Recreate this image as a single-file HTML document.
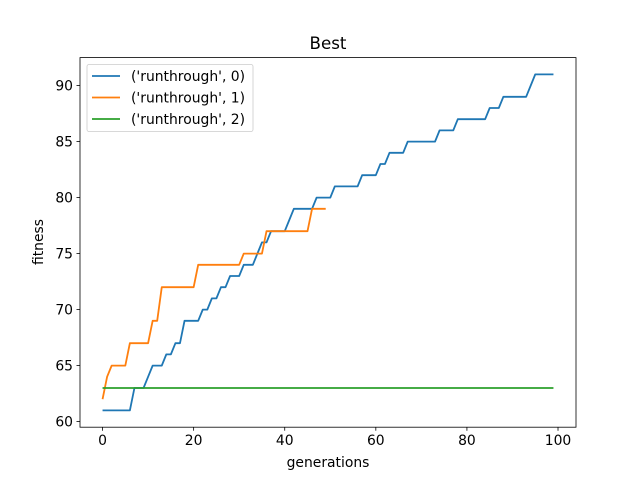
<!DOCTYPE html>
<html><head><meta charset="utf-8"><style>
body{margin:0;background:#fff;}
svg{display:block;font-family:"DejaVu Sans","Liberation Sans",sans-serif;}
</style></head><body>
<svg id="chart" width="640" height="480" viewBox="0 0 640 480" xmlns="http://www.w3.org/2000/svg">
<rect width="640" height="480" fill="#fff"/>
<text x="328" y="49" font-size="16.7" text-anchor="middle">Best</text>
<g id="series"></g>
<rect x="80" y="57.6" width="496" height="369.6" fill="none" stroke="#000" stroke-width="0.8"/>
<g id="xticks"></g><g id="yticks"></g>
<text x="328" y="467" font-size="13.9" text-anchor="middle">generations</text>
<text x="43" y="242" font-size="13.9" text-anchor="middle" transform="rotate(-90 43 242)">fitness</text>
<g id="legend"></g>
</svg>
<script>
const seriesNames = ["('runthrough', 0)", "('runthrough', 1)", "('runthrough', 2)"];
const seriesColors = ["#1f77b4", "#ff7f0e", "#2ca02c"];
const run0 = [61,61,61,61,61,61,61,63,63,63,64,65,65,65,66,66,67,67,69,69,69,69,70,70,71,71,72,72,73,73,73,74,74,74,75,76,76,77,77,77,77,78,79,79,79,79,79,80,80,80,80,81,81,81,81,81,81,82,82,82,82,83,83,84,84,84,84,85,85,85,85,85,85,85,86,86,86,86,87,87,87,87,87,87,87,88,88,88,89,89,89,89,89,89,90,91,91,91,91,91];
const run1 = [62,64,65,65,65,65,67,67,67,67,67,69,69,72,72,72,72,72,72,72,72,74,74,74,74,74,74,74,74,74,74,75,75,75,75,75,77,77,77,77,77,77,77,77,77,77,79,79,79,79];
const run2 = [63,63,63,63,63,63,63,63,63,63,63,63,63,63,63,63,63,63,63,63,63,63,63,63,63,63,63,63,63,63,63,63,63,63,63,63,63,63,63,63,63,63,63,63,63,63,63,63,63,63,63,63,63,63,63,63,63,63,63,63,63,63,63,63,63,63,63,63,63,63,63,63,63,63,63,63,63,63,63,63,63,63,63,63,63,63,63,63,63,63,63,63,63,63,63,63,63,63,63,63];
const xTicks = [0,20,40,60,80,100];
const yTicks = [60,65,70,75,80,85,90];

const NS="http://www.w3.org/2000/svg";
const X0=80,X1=576,Y0=427.2,Y1=57.6;
const xmin=-4.95,xmax=103.95,ymin=59.5,ymax=92.5;
function sx(v){return X0+(v-xmin)/(xmax-xmin)*(X1-X0);}
function sy(v){return Y0-(v-ymin)/(ymax-ymin)*(Y0-Y1);}
function mk(t,a,p){const e=document.createElementNS(NS,t);for(const k in a)e.setAttribute(k,a[k]);(p||document.getElementById('chart')).appendChild(e);return e;}

const xg=document.getElementById('xticks');
xTicks.forEach(t=>{
  const l=mk('line',{x1:sx(t),x2:sx(t),y1:Y0,y2:Y0+3.5,stroke:'#000','stroke-width':0.8},xg);
  
  
  const tx=mk('text',{x:sx(t),y:Y0+18,'font-size':13.9,'text-anchor':'middle'},xg);
  tx.textContent=t;
  
  
});
const yg=document.getElementById('yticks');
yTicks.forEach(t=>{
  const l=mk('line',{x1:X0-3.5,x2:X0,y1:sy(t),y2:sy(t),stroke:'#000','stroke-width':0.8},yg);
  
  
  const tx=mk('text',{x:X0-7,y:sy(t)+5,'font-size':13.9,'text-anchor':'end'},yg);
  tx.textContent=t;
  
  
});
const sg=document.getElementById('series');
[run0,run1,run2].forEach((d,i)=>{
  const pts=d.map((v,j)=>sx(j).toFixed(2)+','+sy(v).toFixed(2)).join(' ');
  const pl=mk('polyline',{points:pts,fill:'none',stroke:seriesColors[i],'stroke-width':1.8,'stroke-linejoin':'round'},sg);
  
  
});
const lg=document.getElementById('legend');
const box=mk('rect',{x:87,y:64.5,width:166,height:67,rx:2,fill:'#fff','fill-opacity':0.8,stroke:'#ccc','stroke-width':0.8},lg);


seriesNames.forEach((n,i)=>{
  const y=76+i*21.5;
  const l=mk('line',{x1:92,x2:120,y1:y,y2:y,stroke:seriesColors[i],'stroke-width':1.8},lg);
  
  
  const t=mk('text',{x:131,y:y+5,'font-size':13.9},lg);
  t.textContent=n;
  
  
});
</script>
</body></html>
